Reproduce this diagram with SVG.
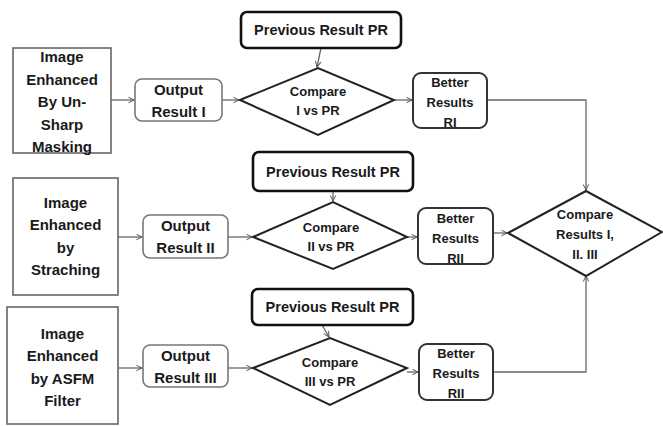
<svg xmlns="http://www.w3.org/2000/svg" width="663" height="426" viewBox="0 0 663 426">
  <defs>
    <marker id="arr" viewBox="0 0 10 10" refX="9" refY="5" markerWidth="7" markerHeight="7" orient="auto" markerUnits="userSpaceOnUse">
      <path d="M1,1 L9,5 L1,9" fill="none" stroke="#555" stroke-width="1.4"/>
    </marker>
    <style>
      text { font-family: "Liberation Sans", Arial, sans-serif; font-weight: bold; fill: #1a1a1a; text-anchor: middle; }
      .src { fill: #fff; stroke: #666; stroke-width: 1.6; }
      .out { fill: #fff; stroke: #777; stroke-width: 1.6; }
      .prev { fill: #fff; stroke: #111; stroke-width: 2.6; }
      .dec { fill: #fff; stroke: #222; stroke-width: 2; }
      .best { fill: #fff; stroke: #333; stroke-width: 2; }
      .t15 { font-size: 15px; }
      .t14 { font-size: 14.5px; }
      .t13 { font-size: 13px; }
      .conn path { fill: none; stroke: #666; stroke-width: 1.3; }
    </style>
  </defs>
  <rect width="663" height="426" fill="#fff"/>

  <!-- connectors -->
  <g id="connectors" class="conn">
    <path d="M111,100 H134" marker-end="url(#arr)"/>
    <path d="M222,100 H239" marker-end="url(#arr)"/>
    <path d="M321,48 L317,67" marker-end="url(#arr)"/>
    <path d="M394,100 H412" marker-end="url(#arr)"/>
    <path d="M487,100 H586 V190" marker-end="url(#arr)"/>

    <path d="M118,237 H142" marker-end="url(#arr)"/>
    <path d="M228,237 H252" marker-end="url(#arr)"/>
    <path d="M333,191 V201" marker-end="url(#arr)"/>
    <path d="M407,237 H417" marker-end="url(#arr)"/>
    <path d="M493,233 H507" marker-end="url(#arr)"/>

    <path d="M118,368 H142" marker-end="url(#arr)"/>
    <path d="M228,368 H252" marker-end="url(#arr)"/>
    <path d="M322,325 L329,337" marker-end="url(#arr)"/>
    <path d="M407,372 H418" marker-end="url(#arr)"/>
    <path d="M493,372 H586 V276" marker-end="url(#arr)"/>
  </g>

  <!-- row 1 -->
  <g id="src1">
    <rect class="src" x="13" y="48" width="98" height="105"/>
    <text class="t15" x="62" y="62">Image</text>
    <text class="t15" x="62" y="85">Enhanced</text>
    <text class="t15" x="62" y="107">By Un-</text>
    <text class="t15" x="62" y="130">Sharp</text>
    <text class="t15" x="62" y="152">Masking</text>
  </g>
  <g id="out1">
    <rect class="out" x="135" y="79" width="87" height="42" rx="7"/>
    <text class="t15" x="178.5" y="95">Output</text>
    <text class="t15" x="178.5" y="117">Result I</text>
  </g>
  <g id="prev1">
    <rect class="prev" x="241" y="12" width="160" height="36" rx="6"/>
    <text class="t14" x="321" y="35">Previous Result PR</text>
  </g>
  <g id="cmp1">
    <polygon class="dec" points="240,100 318,68 394,100 318,135"/>
    <text class="t13" x="318" y="96">Compare</text>
    <text class="t13" x="318" y="115">I vs PR</text>
  </g>
  <g id="best1">
    <rect class="best" x="413" y="73" width="74" height="55" rx="8"/>
    <text class="t13" x="450" y="87">Better</text>
    <text class="t13" x="450" y="107">Results</text>
    <text class="t13" x="450" y="127">RI</text>
  </g>

  <!-- row 2 -->
  <g id="src2">
    <rect class="src" x="13" y="178" width="105" height="117"/>
    <text class="t15" x="65.5" y="208">Image</text>
    <text class="t15" x="65.5" y="230">Enhanced</text>
    <text class="t15" x="65.5" y="253">by</text>
    <text class="t15" x="65.5" y="275">Straching</text>
  </g>
  <g id="out2">
    <rect class="out" x="143" y="215" width="85" height="43" rx="7"/>
    <text class="t15" x="185.5" y="231">Output</text>
    <text class="t15" x="185.5" y="253">Result II</text>
  </g>
  <g id="prev2">
    <rect class="prev" x="253" y="152" width="160" height="39" rx="6"/>
    <text class="t14" x="333" y="177">Previous Result PR</text>
  </g>
  <g id="cmp2">
    <polygon class="dec" points="253,237 333,202 407,237 333,269"/>
    <text class="t13" x="331" y="232">Compare</text>
    <text class="t13" x="331" y="251">II vs PR</text>
  </g>
  <g id="best2">
    <rect class="best" x="418" y="208" width="75" height="56" rx="8"/>
    <text class="t13" x="455.5" y="223">Better</text>
    <text class="t13" x="455.5" y="243">Results</text>
    <text class="t13" x="455.5" y="263">RII</text>
  </g>
  <g id="final">
    <polygon class="dec" points="508,233 586,191 662,232 586,276"/>
    <text class="t13" x="585" y="219">Compare</text>
    <text class="t13" x="585" y="239">Results I,</text>
    <text class="t13" x="585" y="259">II. III</text>
  </g>

  <!-- row 3 -->
  <g id="src3">
    <rect class="src" x="7" y="307" width="111" height="117"/>
    <text class="t15" x="62.5" y="339">Image</text>
    <text class="t15" x="62.5" y="361">Enhanced</text>
    <text class="t15" x="62.5" y="384">by ASFM</text>
    <text class="t15" x="62.5" y="406">Filter</text>
  </g>
  <g id="out3">
    <rect class="out" x="143" y="345" width="85" height="42" rx="7"/>
    <text class="t15" x="185.5" y="361">Output</text>
    <text class="t15" x="185.5" y="383">Result III</text>
  </g>
  <g id="prev3">
    <rect class="prev" x="252" y="289" width="161" height="36" rx="6"/>
    <text class="t14" x="332.5" y="312">Previous Result PR</text>
  </g>
  <g id="cmp3">
    <polygon class="dec" points="253,368 330,338 407,368 330,405"/>
    <text class="t13" x="330" y="367">Compare</text>
    <text class="t13" x="330" y="386">III  vs PR</text>
  </g>
  <g id="best3">
    <rect class="best" x="419" y="344" width="74" height="56" rx="8"/>
    <text class="t13" x="456" y="358">Better</text>
    <text class="t13" x="456" y="378">Results</text>
    <text class="t13" x="456" y="398">RII</text>
  </g>
</svg>
